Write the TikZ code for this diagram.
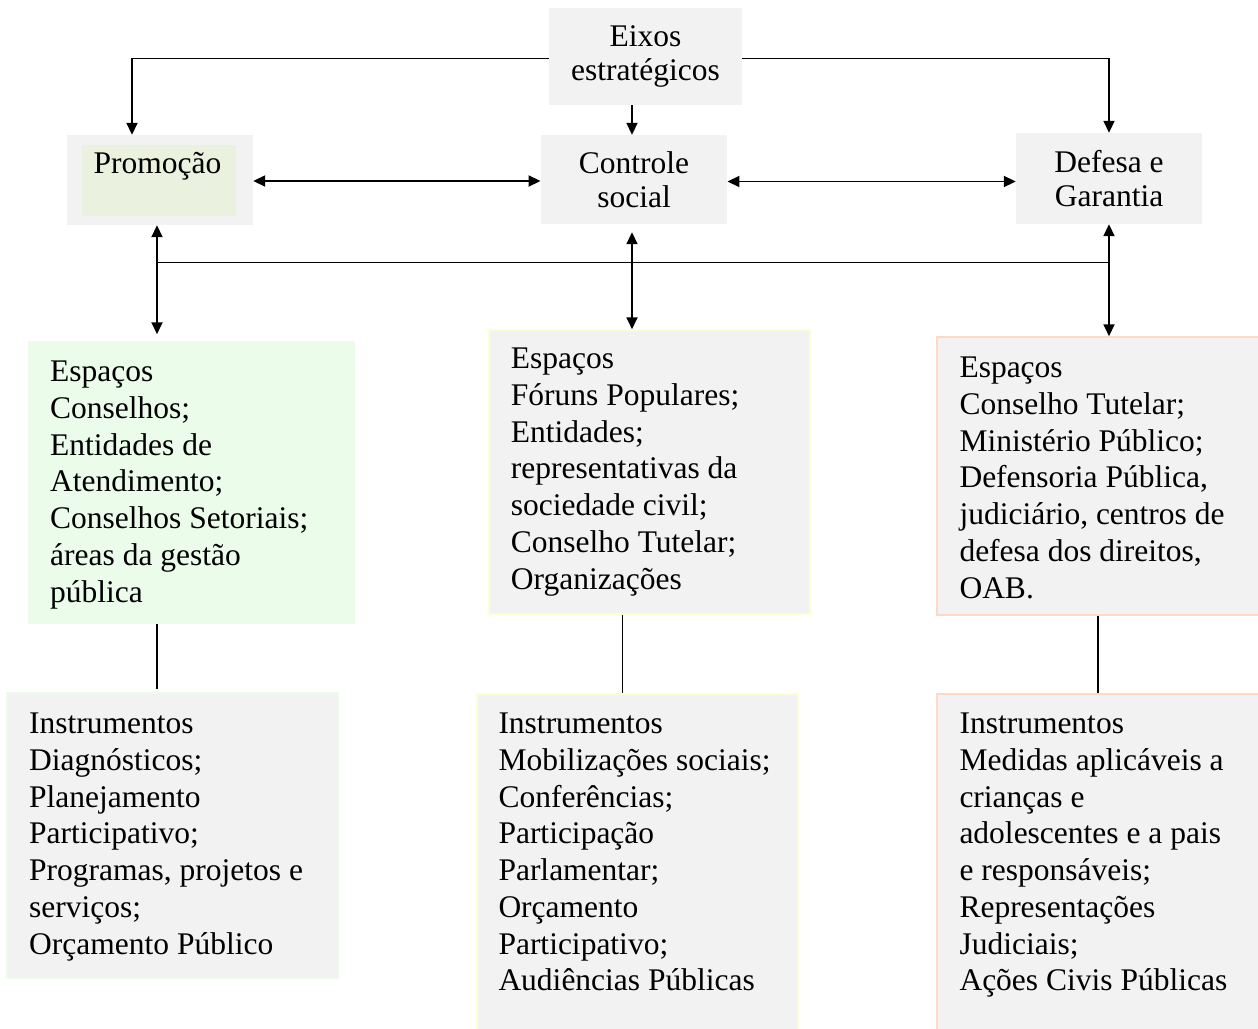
\documentclass[tikz,border=0pt]{standalone}
\usepackage{fontspec}
\setmainfont{Liberation Serif}
\usetikzlibrary{arrows.meta}

\definecolor{boxgray}{RGB}{242,242,242}
\definecolor{olivelight}{RGB}{234,241,222}
\definecolor{mintfill}{RGB}{235,252,235}
\definecolor{creamline}{RGB}{253,253,215}
\definecolor{peachline}{RGB}{252,218,196}

\begin{document}
\begin{tikzpicture}[x=1pt,y=-1pt,
  axisbox/.style={fill=boxgray, inner sep=0pt, align=center, font=\fontsize{31.5}{34.5}\selectfont},
  spacebox/.style={inner sep=0pt, line width=1.5pt},
  boxtext/.style={anchor=north west, inner sep=0pt, align=left, font=\fontsize{31.5}{36.7}\selectfont},
  arr/.style={line width=1.8pt, -{Triangle[length=12pt,width=11pt]}},
  dblarr/.style={line width=1.8pt, {Triangle[length=12pt,width=11pt]}-{Triangle[length=12pt,width=11pt]}}]
\useasboundingbox (0,0) rectangle (1258,1028);

\node (eixos) at (645.5,56.5) [axisbox, minimum width=193pt, minimum height=97pt] {Eixos\\estratégicos};
\node (controle) at (634,179.5) [axisbox, minimum width=186.5pt, minimum height=89pt] {Controle\\social};
\node (defesa) at (1109,178.5) [axisbox, minimum width=186pt, minimum height=91pt] {Defesa e\\Garantia};
\node (promo) at (160,180) [fill=boxgray, inner sep=0pt, minimum width=186pt, minimum height=90pt] {};
\node (promoin) at (159,180.5) [fill=olivelight, inner sep=0pt, minimum width=154pt, minimum height=71pt] {};
\node (promotxt) at (157.5,173) [anchor=base, inner sep=0pt, font=\fontsize{31.5}{34.5}\selectfont] {Promoção};
\coordinate (bus) at (0,262.3);

\node (espL) at (191.5,482.5) [spacebox, fill=mintfill, draw=mintfill, minimum width=325pt, minimum height=281pt] {};
\node (espC) at (649.5,472) [spacebox, fill=boxgray, draw=creamline, minimum width=321pt, minimum height=284pt] {};
\node (espR) at (1100,476) [spacebox, fill=boxgray, draw=peachline, minimum width=326pt, minimum height=278pt] {};
\node (instL) at (172.5,835.5) [spacebox, fill=boxgray, draw=mintfill, minimum width=331pt, minimum height=285pt] {};
\node (instC) at (637.5,863) [spacebox, fill=boxgray, draw=creamline, minimum width=321pt, minimum height=338pt] {};
\node (instR) at (1100,863) [spacebox, fill=boxgray, draw=peachline, minimum width=326pt, minimum height=338pt] {};

\node (espLtxt) at (50,361) [boxtext] {Espaços\\Conselhos;\\Entidades de\\Atendimento;\\Conselhos Setoriais;\\áreas da gestão\\pública};
\node (espCtxt) at (510.7,348) [boxtext] {Espaços\\Fóruns Populares;\\Entidades;\\representativas da\\sociedade civil;\\Conselho Tutelar;\\Organizações};
\node (espRtxt) at (959.3,357) [boxtext] {Espaços\\Conselho Tutelar;\\Ministério Público;\\Defensoria Pública,\\judiciário, centros de\\defesa dos direitos,\\OAB.};
\node (instLtxt) at (29,713) [boxtext] {Instrumentos\\Diagnósticos;\\Planejamento\\Participativo;\\Programas, projetos e\\serviços;\\Orçamento Público};
\node (instCtxt) at (498.3,713) [boxtext] {Instrumentos\\Mobilizações sociais;\\Conferências;\\Participação\\Parlamentar;\\Orçamento\\Participativo;\\Audiências Públicas};
\node (instRtxt) at (959.3,713) [boxtext] {Instrumentos\\Medidas aplicáveis a\\crianças e\\adolescentes e a pais\\e responsáveis;\\Representações\\Judiciais;\\Ações Civis Públicas};

\draw[arr] ([yshift=-2pt]eixos.west) -| ([xshift=-28pt]promo.north);
\draw[arr] ([yshift=-2pt]eixos.east) -| (defesa.north);
\draw[arr] ([xshift=-2pt]controle.north |- eixos.south) to ([xshift=-2pt]controle.north);
\draw[dblarr] ([yshift=-1pt]promo.east) to ([yshift=-1pt]promo.east -| controle.west);
\draw[dblarr] ([yshift=-2pt]controle.east) to ([yshift=-2pt]controle.east -| defesa.west);

\draw[dblarr] ([xshift=-3pt]promo.south) to ([xshift=-3pt,yshift=7pt]promo.south |- espL.north);
\draw[dblarr] ([xshift=-2pt,yshift=-8pt]controle.south) to ([xshift=-2pt]controle.south |- espC.north);
\draw[dblarr] (defesa.south) to (defesa.south |- espR.north);
\draw[line width=1.2pt] ([xshift=-3pt]promo.south |- bus) to (defesa.south |- bus);

\draw[line width=1.5pt]
([xshift=-34.5pt]espL.south) to ([xshift=-34.5pt,yshift=3pt]espL.south |- instL.north)
([xshift=-27pt]espC.south) to ([xshift=-27pt]espC.south |- instC.north)
([xshift=-2pt]espR.south) to ([xshift=-2pt]espR.south |- instR.north);
\end{tikzpicture}
\end{document}
